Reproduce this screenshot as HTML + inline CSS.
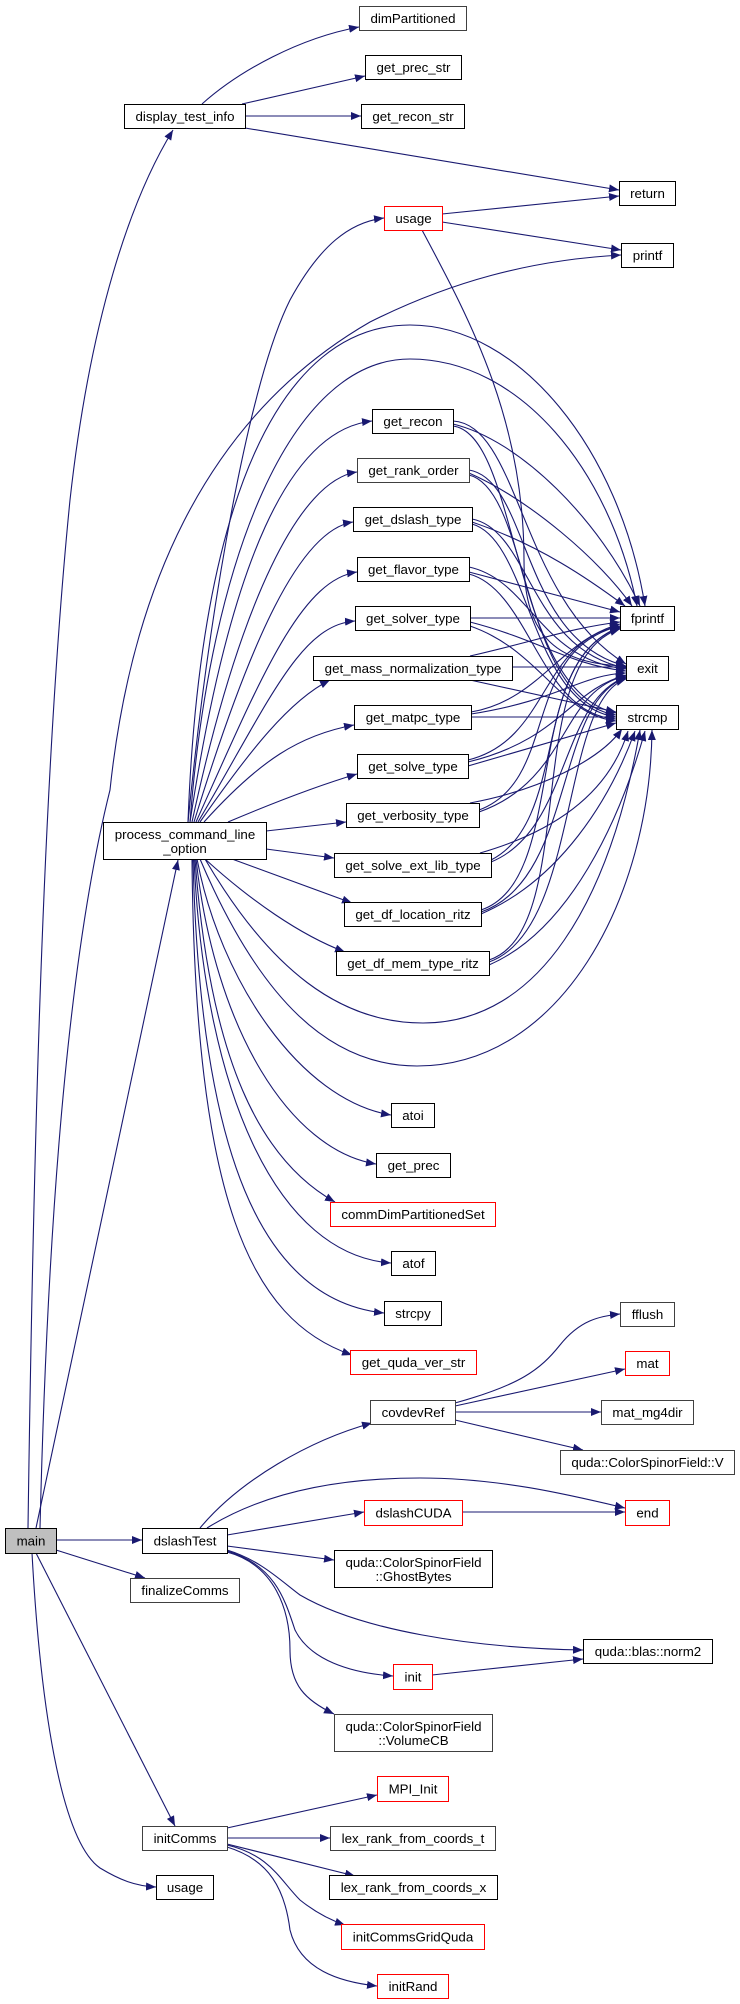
<!DOCTYPE html>
<html><head><meta charset="utf-8"><style>
html,body{margin:0;padding:0;background:#fff;}
svg{display:block;}
text{font-family:"Liberation Sans",Arial,sans-serif;font-size:13.3px;fill:#000;text-anchor:middle;}
.e{fill:none;stroke:#191970;stroke-width:1.1;marker-end:url(#ah);}
.n{fill:#fff;stroke:#000;stroke-width:1;}
.g{fill:#fff;stroke:#404040;stroke-width:1;}
.r{fill:#fff;stroke:#ff0000;stroke-width:1;}
</style></head><body>
<svg width="740" height="2004" viewBox="0 0 740 2004" xmlns="http://www.w3.org/2000/svg">
<defs><marker id="ah" markerUnits="userSpaceOnUse" markerWidth="11" markerHeight="8" refX="10" refY="4" orient="auto"><path d="M0,0 L10,4 L0,8 z" fill="#191970"/></marker></defs>
<rect width="740" height="2004" fill="#fff"/>
<!-- edges -->
<g>
<!-- display_test_info -->
<path class="e" d="M202,104 C240,70 300,38 359,27"/>
<path class="e" d="M242,104 L365,76"/>
<path class="e" d="M245,116 L361,116"/>
<path class="e" d="M245,128 L619,190"/>
<!-- usage top -->
<path class="e" d="M442,214 L619,196"/>
<path class="e" d="M442,222 L621,250"/>
<path class="e" d="M422,230 C470,320 524,420 524,560 C524,640 560,664 626,666"/>
<!-- main -->
<path class="e" d="M28,1528 C34,1100 45,750 70,500 C90,320 130,200 173,130"/>
<path class="e" d="M40,1528 C48,1200 70,950 110,790 C130,600 200,420 370,322 C450,282 530,260 621,255"/>
<path class="e" d="M36,1528 L178,860"/>
<path class="e" d="M56,1540 L142,1540"/>
<path class="e" d="M56,1550 L145,1578"/>
<path class="e" d="M36,1553 L175,1826"/>
<path class="e" d="M32,1553 C40,1700 60,1840 100,1868 C120,1880 135,1886 156,1887"/>
<!-- process top -->
<path class="e" d="M188,822 C210,600 250,380 290,300 C320,245 350,222 384,218"/>
<path class="e" d="M190,822 C230,560 290,430 372,421"/>
<path class="e" d="M192,822 C240,600 300,480 357,472"/>
<path class="e" d="M194,822 C250,640 300,530 353,522"/>
<path class="e" d="M196,822 C260,680 300,580 357,572"/>
<path class="e" d="M198,822 C270,700 300,625 355,621"/>
<path class="e" d="M200,822 C250,750 290,700 330,680"/>
<path class="e" d="M204,822 C260,760 300,735 354,725"/>
<path class="e" d="M228,822 C280,800 320,785 357,774"/>
<path class="e" d="M266,831 L346,822"/>
<path class="e" d="M266,849 L334,858"/>
<path class="e" d="M232,859 L352,903"/>
<path class="e" d="M205,859 C250,900 300,935 345,952"/>
<path class="e" d="M188,822 C200,500 280,325 410,325 C520,325 620,450 645,606"/>
<path class="e" d="M190,822 C210,560 290,359 410,359 C520,359 610,470 637,606"/>
<!-- process bottom -->
<path class="e" d="M205,859 C270,970 340,1023 423,1023 C540,1023 610,900 640,730"/>
<path class="e" d="M200,859 C260,1000 330,1066 417,1066 C560,1066 650,900 652,730"/>
<path class="e" d="M197,859 C220,980 300,1100 391,1115"/>
<path class="e" d="M196,859 C215,1030 290,1150 376,1164"/>
<path class="e" d="M195,859 C210,1060 260,1160 335,1202"/>
<path class="e" d="M194,859 C205,1100 280,1255 391,1263"/>
<path class="e" d="M193,859 C200,1150 260,1300 384,1313"/>
<path class="e" d="M192,859 C195,1200 250,1320 352,1355"/>
<!-- get_* to fprintf/exit/strcmp -->
<path class="e" d="M453,424 C520,440 600,520 640,606"/>
<path class="e" d="M453,421 C520,425 520,600 626,664"/>
<path class="e" d="M453,426 C520,435 510,690 616,713"/>
<path class="e" d="M469,473 C530,500 600,560 632,606"/>
<path class="e" d="M469,470 C530,480 520,640 626,666"/>
<path class="e" d="M469,475 C530,490 520,700 616,715"/>
<path class="e" d="M472,522 C540,545 590,580 625,606"/>
<path class="e" d="M472,519 C530,530 530,650 626,668"/>
<path class="e" d="M472,524 C530,540 530,705 616,717"/>
<path class="e" d="M469,572 L620,612"/>
<path class="e" d="M469,567 C530,580 540,660 626,669"/>
<path class="e" d="M469,574 C530,590 540,715 616,719"/>
<path class="e" d="M470,618 L620,618"/>
<path class="e" d="M470,622 C540,640 570,665 626,671"/>
<path class="e" d="M470,626 C540,650 560,715 616,721"/>
<path class="e" d="M470,656 C540,640 570,628 620,622"/>
<path class="e" d="M512,667 L626,667"/>
<path class="e" d="M470,680 L616,712"/>
<path class="e" d="M471,712 C540,700 560,640 620,624"/>
<path class="e" d="M471,714 C560,700 580,675 626,673"/>
<path class="e" d="M471,717 L616,717"/>
<path class="e" d="M468,760 C550,740 540,640 620,626"/>
<path class="e" d="M468,762 C560,740 570,690 626,675"/>
<path class="e" d="M468,766 L616,723"/>
<path class="e" d="M479,810 C560,780 520,650 620,626"/>
<path class="e" d="M479,812 C570,780 560,690 626,676"/>
<path class="e" d="M470,803 C540,790 600,760 622,729"/>
<path class="e" d="M491,860 C570,820 530,660 620,627"/>
<path class="e" d="M491,862 C570,830 560,700 626,677"/>
<path class="e" d="M480,853 C560,830 610,790 628,731"/>
<path class="e" d="M481,910 C570,880 520,660 620,628"/>
<path class="e" d="M481,912 C575,880 555,700 626,678"/>
<path class="e" d="M481,914 C560,880 610,800 635,731"/>
<path class="e" d="M489,960 C580,930 520,660 620,629"/>
<path class="e" d="M489,962 C580,930 560,700 626,679"/>
<path class="e" d="M489,965 C570,930 620,820 645,731"/>
<!-- dslashTest -->
<path class="e" d="M200,1528 C240,1480 310,1440 372,1423"/>
<path class="e" d="M207,1528 C260,1495 330,1478 420,1478 C500,1478 570,1495 625,1508"/>
<path class="e" d="M227,1535 L364,1512"/>
<path class="e" d="M227,1546 L334,1560"/>
<path class="e" d="M227,1550 C260,1560 280,1580 300,1595 C360,1630 470,1648 583,1650"/>
<path class="e" d="M227,1551 C275,1565 285,1600 295,1630 C310,1660 350,1673 393,1676"/>
<path class="e" d="M227,1552 C275,1565 290,1610 290,1650 C290,1685 305,1700 334,1714"/>
<!-- covdevRef -->
<path class="e" d="M455,1403 C520,1385 540,1370 560,1345 C580,1320 600,1316 620,1314"/>
<path class="e" d="M455,1406 L625,1369"/>
<path class="e" d="M455,1412 L601,1412"/>
<path class="e" d="M455,1420 L583,1450"/>
<path class="e" d="M462,1512 L625,1512"/>
<path class="e" d="M432,1675 L583,1659"/>
<!-- initComms -->
<path class="e" d="M227,1828 L377,1795"/>
<path class="e" d="M227,1838 L330,1838"/>
<path class="e" d="M227,1844 L355,1876"/>
<path class="e" d="M227,1845 C270,1855 280,1880 300,1900 C315,1912 330,1920 345,1925"/>
<path class="e" d="M227,1847 C270,1860 285,1890 290,1930 C300,1970 340,1982 377,1986"/>
</g>
<!-- nodes -->
<g>
<rect class="g" x="359.5" y="6.5" width="107" height="24"/><text x="413" y="23">dimPartitioned</text>
<rect class="n" x="365.5" y="55.5" width="96" height="24"/><text x="413.5" y="72">get_prec_str</text>
<rect class="n" x="361.5" y="104.5" width="103" height="24"/><text x="413" y="121">get_recon_str</text>
<rect class="n" x="124.5" y="104.5" width="121" height="24"/><text x="185" y="121">display_test_info</text>
<rect class="n" x="619.5" y="181.5" width="56" height="24"/><text x="647.5" y="198">return</text>
<rect class="r" x="384.5" y="206.5" width="58" height="24"/><text x="413.5" y="223">usage</text>
<rect class="n" x="621.5" y="243.5" width="52" height="24"/><text x="647.5" y="260">printf</text>
<rect class="n" x="372.5" y="409.5" width="81" height="24"/><text x="413" y="426">get_recon</text>
<rect class="g" x="357.5" y="458.5" width="112" height="24"/><text x="413.5" y="475">get_rank_order</text>
<rect class="n" x="353.5" y="507.5" width="119" height="24"/><text x="413" y="524">get_dslash_type</text>
<rect class="n" x="357.5" y="557.5" width="112" height="24"/><text x="413.5" y="574">get_flavor_type</text>
<rect class="n" x="355.5" y="606.5" width="115" height="24"/><text x="413" y="623">get_solver_type</text>
<rect class="n" x="313.5" y="656.5" width="199" height="24"/><text x="413" y="673">get_mass_normalization_type</text>
<rect class="n" x="354.5" y="705.5" width="117" height="24"/><text x="413" y="722">get_matpc_type</text>
<rect class="n" x="357.5" y="754.5" width="111" height="24"/><text x="413" y="771">get_solve_type</text>
<rect class="n" x="620.5" y="606.5" width="54" height="24"/><text x="647.5" y="623">fprintf</text>
<rect class="n" x="626.5" y="656.5" width="42" height="24"/><text x="647.5" y="673">exit</text>
<rect class="n" x="616.5" y="705.5" width="62" height="24"/><text x="647.5" y="722">strcmp</text>
<rect class="n" x="346.5" y="803.5" width="133" height="24"/><text x="413" y="820">get_verbosity_type</text>
<rect class="n" x="103.5" y="822.5" width="163" height="37"/><text x="185" y="839">process_command_line</text><text x="185" y="853">_option</text>
<rect class="n" x="334.5" y="853.5" width="157" height="24"/><text x="413" y="870">get_solve_ext_lib_type</text>
<rect class="n" x="344.5" y="902.5" width="137" height="24"/><text x="413" y="919">get_df_location_ritz</text>
<rect class="n" x="336.5" y="951.5" width="153" height="24"/><text x="413" y="968">get_df_mem_type_ritz</text>
<rect class="n" x="391.5" y="1103.5" width="43" height="24"/><text x="413" y="1120">atoi</text>
<rect class="n" x="376.5" y="1153.5" width="74" height="24"/><text x="413.5" y="1170">get_prec</text>
<rect class="r" x="330.5" y="1202.5" width="165" height="24"/><text x="413" y="1219">commDimPartitionedSet</text>
<rect class="n" x="391.5" y="1251.5" width="44" height="24"/><text x="413.5" y="1268">atof</text>
<rect class="n" x="384.5" y="1301.5" width="57" height="24"/><text x="413" y="1318">strcpy</text>
<rect class="r" x="350.5" y="1350.5" width="126" height="24"/><text x="413.5" y="1367">get_quda_ver_str</text>
<rect class="g" x="620.5" y="1302.5" width="54" height="24"/><text x="647.5" y="1319">fflush</text>
<rect class="r" x="625.5" y="1351.5" width="44" height="24"/><text x="647.5" y="1368">mat</text>
<rect class="g" x="370.5" y="1400.5" width="85" height="24"/><text x="413" y="1417">covdevRef</text>
<rect class="g" x="601.5" y="1400.5" width="92" height="24"/><text x="647.5" y="1417">mat_mg4dir</text>
<rect class="g" x="560.5" y="1450.5" width="174" height="24"/><text x="647.5" y="1467">quda::ColorSpinorField::V</text>
<rect class="r" x="625.5" y="1500.5" width="44" height="25"/><text x="647.5" y="1517.5">end</text>
<rect class="r" x="364.5" y="1500.5" width="98" height="25"/><text x="413.5" y="1517.5">dslashCUDA</text>
<rect x="5.5" y="1528.5" width="51" height="25" fill="#bfbfbf" stroke="#000"/><text x="31" y="1545.5">main</text>
<rect class="n" x="142.5" y="1528.5" width="85" height="25"/><text x="185" y="1545.5">dslashTest</text>
<rect class="n" x="334.5" y="1550.5" width="158" height="37"/><text x="413.5" y="1567">quda::ColorSpinorField</text><text x="413.5" y="1581">::GhostBytes</text>
<rect class="g" x="130.5" y="1578.5" width="109" height="24"/><text x="185" y="1595">finalizeComms</text>
<rect class="n" x="583.5" y="1639.5" width="129" height="24"/><text x="648" y="1656">quda::blas::norm2</text>
<rect class="r" x="393.5" y="1664.5" width="39" height="25"/><text x="413" y="1681.5">init</text>
<rect class="g" x="334.5" y="1714.5" width="158" height="37"/><text x="413.5" y="1731">quda::ColorSpinorField</text><text x="413.5" y="1745">::VolumeCB</text>
<rect class="r" x="377.5" y="1776.5" width="71" height="25"/><text x="413" y="1793.5">MPI_Init</text>
<rect class="g" x="142.5" y="1826.5" width="85" height="24"/><text x="185" y="1843">initComms</text>
<rect class="g" x="330.5" y="1826.5" width="165" height="24"/><text x="413" y="1843">lex_rank_from_coords_t</text>
<rect class="n" x="156.5" y="1875.5" width="57" height="24"/><text x="185" y="1892">usage</text>
<rect class="n" x="329.5" y="1875.5" width="168" height="24"/><text x="413.5" y="1892">lex_rank_from_coords_x</text>
<rect class="r" x="341.5" y="1924.5" width="143" height="25"/><text x="413" y="1941.5">initCommsGridQuda</text>
<rect class="r" x="377.5" y="1974.5" width="71" height="24"/><text x="413" y="1991">initRand</text>
</g>
</svg>
</body></html>
